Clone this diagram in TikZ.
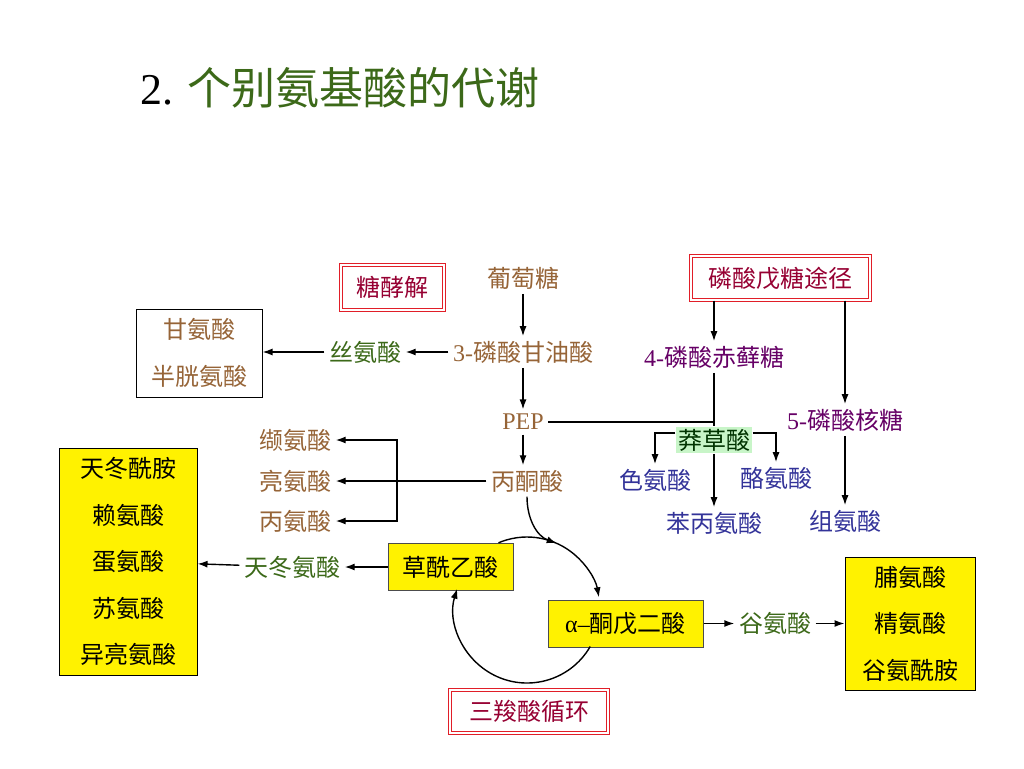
\documentclass[tikz,border=0pt]{standalone}
\usepackage{fontspec}
\usetikzlibrary{arrows.meta}
\setmainfont{Liberation Serif}
\newfontfamily\cjk{Noto Sans CJK SC}
\definecolor{browntxt}{RGB}{150,100,55}
\definecolor{greentxt}{RGB}{60,105,25}
\definecolor{redtxt}{RGB}{150,0,50}
\definecolor{redline}{RGB}{225,30,40}
\definecolor{purpletxt}{RGB}{102,0,102}
\definecolor{bluetxt}{RGB}{51,51,153}
\definecolor{shikfill}{RGB}{200,245,200}
\begin{document}
\begin{tikzpicture}[x=1pt,y=1pt,>={Latex[length=10pt,width=7pt]},line width=1.4pt,
    txt/.style={font=\cjk\fontsize{24}{28}\selectfont,inner sep=4pt},
    redbox/.style={txt,text=redtxt,draw=redline,double=white,double distance=2pt,line width=1pt},
    yelbox/.style={txt,fill=yellow,draw=black!70,line width=1pt},
    multi/.style={align=center,font=\cjk\fontsize{24}{46.5}\selectfont}]
    \def\r{73} % ban kinh chu trinh
    \useasboundingbox (0,0) rectangle (1024,-768);
    \node (title) at (136,-88) [anchor=west,font=\fontsize{44}{50}\selectfont]{2. {\cjk\color{greentxt}个别氨基酸的代谢}};
    % duong phan giai
    \node[redbox,minimum width=103,minimum height=45] (tjj) at (392.5,-287.5) {糖酵解};
    \node[txt,text=browntxt] (glc) at (523,-278) {葡萄糖};
    \node[txt,text=browntxt] (g3p) at (523,-352) {{\rmfamily 3-}磷酸甘油酸};
    \node[txt,text=greentxt] (ser) at (365,-352) {丝氨酸};
    \node[txt,text=browntxt,draw=black,line width=1pt,minimum width=126,minimum height=88,multi,fill=white] (gly) at (199,-353) {甘氨酸\\半胱氨酸};
    \node[txt,text=browntxt] (pep) at (523,-422) {\rmfamily PEP};
    \node[txt,text=browntxt] (pyr) at (527,-481) {丙酮酸};
    \node[txt,text=browntxt] (val) at (295,-440) {缬氨酸};
    \node[txt,text=browntxt] (leu) at (295,-481) {亮氨酸};
    \node[txt,text=browntxt] (ala) at (295,-521) {丙氨酸};
    \coordinate (brk) at (397,-481);
    % duong phosphat pentose
    \node[redbox,minimum width=179,minimum height=44] (ppp) at (780.5,-278) {磷酸戊糖途径};
    \node[txt,text=purpletxt] (e4p) at (714,-357) {{\rmfamily 4-}磷酸赤藓糖};
    \node[txt,text=purpletxt] (r5p) at (845,-420) {{\rmfamily 5-}磷酸核糖};
    \node[txt,fill=shikfill,text=black!80!green,inner sep=2pt] (shik) at (714,-440) {莽草酸};
    \node[txt,text=bluetxt] (trp) at (655,-480) {色氨酸};
    \node[txt,text=bluetxt] (tyr) at (776,-478) {酪氨酸};
    \node[txt,text=bluetxt] (phe) at (714,-523) {苯丙氨酸};
    \node[txt,text=bluetxt] (his) at (845,-521) {组氨酸};
    % chu trinh acid citric
    \node[yelbox,minimum width=125,minimum height=47] (oaa) at (450.5,-567) {草酰乙酸};
    \node[yelbox,minimum width=155,minimum height=47] (akg) at (625.5,-623.5) {{\rmfamily α–}酮戊二酸};
    \node[redbox,minimum width=158,minimum height=43] (tca) at (529,-711.5) {三羧酸循环};
    \node[txt,text=greentxt] (asp) at (292,-567) {天冬氨酸};
    \node[txt,text=greentxt] (glu) at (775,-623.5) {谷氨酸};
    \node[yelbox,draw=black,multi,minimum width=138,minimum height=227] (asgrp) at (128,-561.5) {天冬酰胺\\赖氨酸\\蛋氨酸\\苏氨酸\\异亮氨酸};
    \node[yelbox,draw=black,multi,minimum width=130,minimum height=133] (glgrp) at (910,-623.5) {脯氨酸\\精氨酸\\谷氨酰胺};
    \coordinate (cyc) at (527,-610);
    \draw[->] (glc) -- (g3p);
    \draw[->] (g3p) -- (ser);
    \draw[->] (ser.west) -- (ser.west -| gly.east);
    \draw[->] (g3p) -- (pep);
    \draw[->] (pep.south) -- (pep.south |- pyr.north);
    \draw[->] (pyr) -- (leu);
    \draw[<->] (val.east) -| (brk) |- (ala.east);
    \draw[->] (ppp.south -| e4p.north) -- (e4p.north);
    \draw[->] (ppp.south -| r5p.north) -- (r5p.north);
    \draw (e4p.south) -- (shik.north);
    \draw (pep.east) -- (pep.east -| shik.north);
    \draw[->] (shik.south) -- (phe.north);
    \draw[->] ([yshift=7]shik.west) -| (trp.north);
    \draw[->] ([yshift=7]shik.east) -| (tyr.north);
    \draw[->] (r5p) -- (his);
    \draw[->] (oaa) -- (asp);
    \draw[->] (asp) -- (asgrp);
    \draw[->] (akg) -- (glu);
    \draw[->] (glu) -- (glgrp);
    \draw[->] ([shift={(113:\r)}]cyc) arc[start angle=113,end angle=10,radius=\r];
    \draw[->] ([shift={(-30:\r)}]cyc) arc[start angle=-30,end angle=-197,radius=\r];
    \draw[->] (pyr.south) to[out=-90,in=160] ([shift={(66:\r)}]cyc);
\end{tikzpicture}
\end{document}
